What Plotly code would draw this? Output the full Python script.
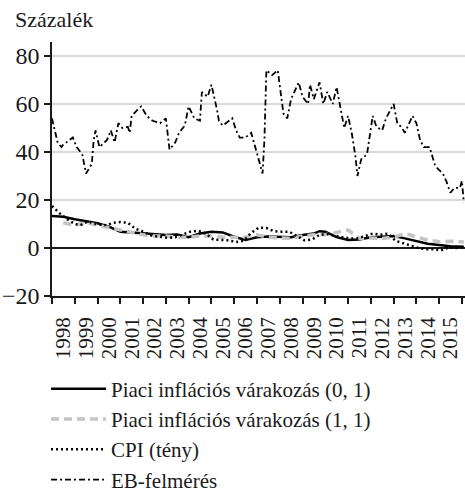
import plotly.graph_objects as go

# ---- data ----
eb_dates = ["1998-01", "1998-04", "1998-06", "1998-07", "1998-12",
            "1999-02", "1999-05", "1999-07", "1999-10", "1999-11", "1999-12",
            "2000-02", "2000-06", "2000-08", "2000-10", "2000-12",
            "2001-02", "2001-05", "2001-06", "2001-07", "2001-10", "2001-12",
            "2002-03", "2002-06", "2002-10",
            "2003-01", "2003-03", "2003-06", "2003-08", "2003-11",
            "2004-01", "2004-04", "2004-07", "2004-08", "2004-11",
            "2005-01", "2005-04", "2005-05", "2005-07", "2005-12",
            "2006-02", "2006-04", "2006-07", "2006-10",
            "2007-01", "2007-04", "2007-05", "2007-06", "2007-09", "2007-12",
            "2008-03", "2008-05", "2008-07", "2008-11",
            "2009-01", "2009-04", "2009-05", "2009-07", "2009-10", "2009-12",
            "2010-02", "2010-05", "2010-07", "2010-09", "2010-11",
            "2011-01", "2011-03", "2011-05", "2011-06", "2011-08", "2011-11",
            "2012-02", "2012-04", "2012-07", "2012-09",
            "2013-01", "2013-03", "2013-05", "2013-07", "2013-11",
            "2014-01", "2014-03", "2014-05", "2014-08", "2014-11",
            "2015-03", "2015-05", "2015-07", "2015-09", "2015-12",
            "2016-01", "2016-02"]
eb_values = [54, 44, 42, 43, 46,
             42, 39, 31, 35, 45, 49,
             42, 45, 49, 44, 52,
             50, 50.5, 48, 55, 57.5, 59,
             55, 53, 52,
             54, 41, 44, 48, 51,
             59, 54, 53, 65, 63,
             68, 57.5, 53, 51, 54,
             49, 46, 46, 48,
             39.5, 31, 45, 74, 72, 74,
             56, 54, 62, 69,
             63, 60, 68, 62, 69, 60,
             65, 60, 67, 59, 50,
             55, 48, 38, 30, 37, 39,
             55, 50.5, 49, 54,
             60, 52, 50.5, 48, 55,
             52, 45, 42, 42, 34,
             31, 27.5, 23, 25, 25,
             28, 19]

p01_dates = ["1998-01", "1998-07", "1999-01", "1999-07", "2000-01", "2000-07",
             "2001-01", "2001-07", "2002-01", "2002-07", "2003-01", "2003-07",
             "2004-01", "2004-07", "2005-01", "2005-07", "2006-01", "2006-07",
             "2007-01", "2007-07", "2008-01", "2008-07", "2009-01", "2009-07",
             "2009-10", "2010-01", "2010-07", "2011-01", "2011-07", "2012-01",
             "2012-07", "2013-01", "2013-07", "2014-01", "2014-07", "2015-01",
             "2015-07", "2016-02"]
p01_values = [13.3, 13, 12, 11, 10.3, 8.9,
              6.8, 6.5, 6.1, 5.6, 5.4, 5.6,
              4.5, 6, 6.8, 6.5, 4.7, 3.3,
              4.5, 4.8, 4.7, 4.5, 5.4, 6,
              7, 6.8, 4.5, 3.3, 3.5, 4.5,
              4.7, 5, 4, 2.8, 1.8, 1.2,
              0.7, 0.5]

p11_dates = ["1998-07", "1999-01", "1999-07", "2000-01", "2000-07", "2001-01",
             "2001-07", "2002-01", "2002-07", "2003-01", "2003-07", "2004-01",
             "2004-07", "2005-01", "2005-07", "2006-01", "2006-07", "2007-01",
             "2007-07", "2008-01", "2008-07", "2009-01", "2009-07", "2010-01",
             "2010-07", "2011-01", "2011-07", "2012-01", "2012-07", "2013-01",
             "2013-07", "2014-01", "2014-07", "2015-01", "2015-07", "2016-02"]
p11_values = [10.5, 9.5, 10.5, 9.5, 8.5, 7.5,
              6.5, 5.5, 5, 5, 4.5, 4.5,
              5, 5, 4.5, 4.5, 4.5, 5.5,
              4.5, 4.2, 4, 5, 5.5, 5.5,
              6.5, 7.5, 4, 4.2, 4, 4.5,
              6, 4.5, 3.3, 2.6, 2.8, 2.5]

cpi_dates = ["1998-01", "1998-05", "1998-09", "1999-01", "1999-04", "1999-08",
             "2000-01", "2000-06", "2000-09", "2001-01", "2001-05", "2001-09",
             "2002-01", "2002-06", "2002-10", "2003-02", "2003-06", "2003-10",
             "2004-02", "2004-06", "2004-10", "2005-02", "2005-06", "2005-10",
             "2006-02", "2006-06", "2006-10", "2007-02", "2007-06", "2007-10",
             "2008-02", "2008-06", "2008-10", "2009-02", "2009-06", "2009-10",
             "2010-02", "2010-06", "2010-10", "2011-02", "2011-06", "2011-10",
             "2012-02", "2012-06", "2012-10", "2013-02", "2013-06", "2013-10",
             "2014-02", "2014-06", "2014-10", "2015-02", "2015-06", "2015-10",
             "2016-02"]
cpi_values = [17.5, 14.5, 12, 10, 9.5, 11,
              9.8, 9.5, 10.5, 10.8, 10.5, 8,
              6.8, 5, 4.7, 4.2, 4.5, 5.5,
              6.8, 7.2, 6, 3.5, 3.3, 3.2,
              2.5, 3, 6.3, 8.5, 8.3, 7,
              6.8, 6.8, 5, 3.2, 3.5, 5.5,
              5.8, 5, 4.5, 4, 4, 5,
              6, 5.5, 6, 3, 2, 1,
              0, -0.5, -0.5, -1, 0.2, 0,
              0.5]

series_names = ["Piaci inflációs várakozás (0, 1)",
                "Piaci inflációs várakozás (1, 1)",
                "CPI (tény)",
                "EB-felmérés"]
y_tick_values = [-20, 0, 20, 40, 60, 80]

FONT = "Liberation Serif, Times New Roman, serif"
INK = "#1a1a1a"

fig = go.Figure()
fig.add_trace(go.Scatter(x=p01_dates, y=p01_values, mode="lines", name=series_names[0],
                         line=dict(color="black", width=2.5)))
fig.add_trace(go.Scatter(x=p11_dates, y=p11_values, mode="lines", name=series_names[1],
                         line=dict(color="#c4c4c4", width=3.5, dash="8px,5px")))
fig.add_trace(go.Scatter(x=cpi_dates, y=cpi_values, mode="lines", name=series_names[2],
                         line=dict(color="black", width=2.5, dash="2px,3px")))
fig.add_trace(go.Scatter(x=eb_dates, y=eb_values, mode="lines", name=series_names[3],
                         line=dict(color="black", width=1.8, dash="6px,3px,2px,3px")))

fig.update_layout(
    width=465, height=492,
    margin=dict(l=52, r=0, t=42, b=196, autoexpand=False),
    paper_bgcolor="white", plot_bgcolor="white",
    font=dict(family=FONT, size=21, color=INK),
    showlegend=True,
    legend=dict(xref="container", yref="container", x=0.099, xanchor="left",
                y=0.251, yanchor="top",
                font=dict(family=FONT, size=21, color=INK),
                itemwidth=55, tracegroupgap=0, bgcolor="rgba(0,0,0,0)"),
    annotations=[dict(text="Százalék", xref="paper", yref="paper",
                      x=-0.0944, y=1.087, xanchor="left", yanchor="middle",
                      showarrow=False, font=dict(family=FONT, size=22, color=INK))],
)
fig.update_xaxes(type="date", range=["1998-01-01", "2016-02-20"],
                 tick0="1998-01-01", dtick="M12", tickformat="%Y",
                 ticklabelmode="period", tickangle=-90, automargin=False,
                 ticklabelstandoff=5,
                 ticks="outside", ticklen=6, tickwidth=1.5, tickcolor=INK,
                 showline=True, linecolor=INK, linewidth=1.5,
                 showgrid=False, zeroline=False,
                 tickfont=dict(family=FONT, size=21, color=INK))
fig.update_yaxes(range=[-20, 85.8], tickvals=y_tick_values, automargin=False,
                 ticks="outside", ticklen=6, tickwidth=1.5, tickcolor=INK,
                 showline=True, linecolor=INK, linewidth=1.5,
                 showgrid=True, gridcolor="#d9d9d9", gridwidth=1.5,
                 zeroline=True, zerolinecolor=INK, zerolinewidth=1.5,
                 tickfont=dict(family=FONT, size=24, color=INK))

# remove the browser's default 8px body margin so the chart fills the window
fig.write_html("out.html", config={"displayModeBar": False},
               post_script="document.body.style.margin='0';document.body.style.overflow='hidden';")
